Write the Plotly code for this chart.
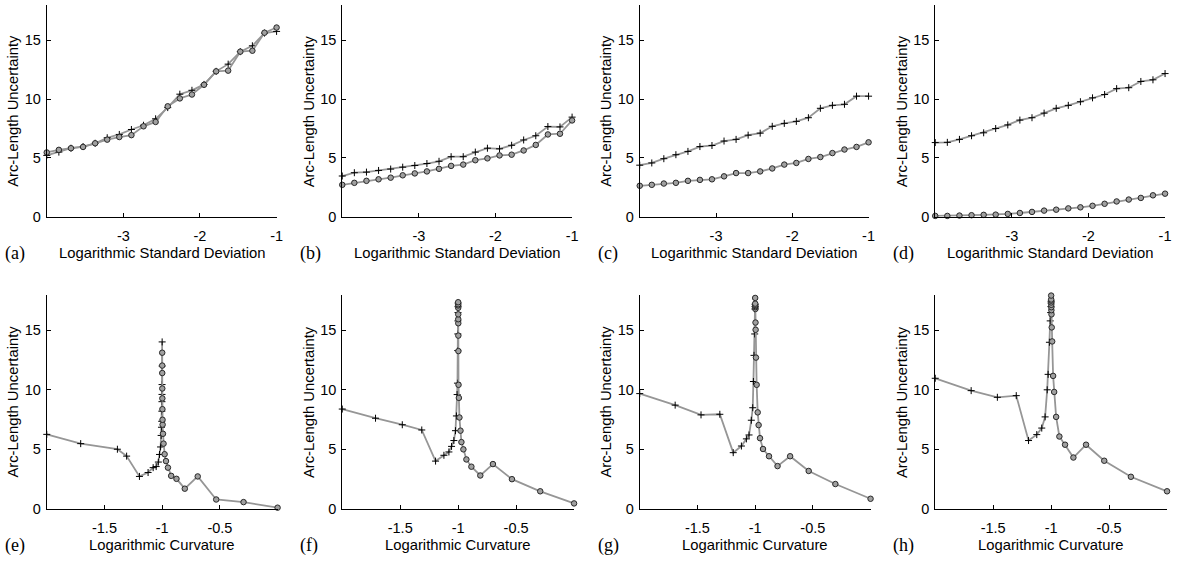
import plotly.graph_objects as go

W, H = 1184, 561

# ---------------- data ----------------
std_x = [-4.0, -3.842, -3.684, -3.526, -3.368, -3.211, -3.053, -2.895, -2.737, -2.579,
         -2.421, -2.263, -2.105, -1.947, -1.789, -1.632, -1.474, -1.316, -1.158, -1.0]

a_plus = [5.22, 5.50, 5.83, 5.97, 6.25, 6.72, 7.00, 7.42, 7.78, 8.33,
          9.28, 10.42, 10.75, 11.25, 12.36, 12.97, 14.03, 14.53, 15.61, 15.75]
a_circ = [5.47, 5.69, 5.83, 5.94, 6.25, 6.56, 6.78, 6.94, 7.69, 8.06,
          9.39, 10.06, 10.39, 11.22, 12.36, 12.42, 14.03, 14.11, 15.64, 16.08]

b_plus = [3.47, 3.75, 3.80, 3.94, 4.06, 4.22, 4.36, 4.53, 4.72, 5.11,
          5.11, 5.50, 5.83, 5.78, 6.08, 6.53, 6.89, 7.67, 7.64, 8.47]
b_circ = [2.72, 2.89, 3.06, 3.19, 3.33, 3.53, 3.69, 3.86, 4.08, 4.33,
          4.44, 4.81, 4.97, 5.22, 5.28, 5.64, 6.11, 7.00, 7.06, 8.19]

c_plus = [4.39, 4.58, 4.94, 5.28, 5.56, 5.97, 6.06, 6.44, 6.58, 6.94,
          7.11, 7.69, 7.94, 8.11, 8.42, 9.22, 9.47, 9.56, 10.25, 10.25]
c_circ = [2.64, 2.72, 2.83, 2.89, 3.06, 3.14, 3.19, 3.44, 3.72, 3.72,
          3.86, 4.11, 4.44, 4.58, 4.92, 5.08, 5.42, 5.72, 5.94, 6.33]

d_plus = [6.31, 6.33, 6.58, 6.89, 7.14, 7.50, 7.81, 8.22, 8.42, 8.81,
          9.22, 9.47, 9.78, 10.11, 10.39, 10.89, 10.97, 11.50, 11.64, 12.17]
d_circ = [0.08, 0.08, 0.11, 0.14, 0.17, 0.19, 0.25, 0.33, 0.42, 0.53,
          0.61, 0.72, 0.81, 0.94, 1.11, 1.31, 1.47, 1.61, 1.83, 1.97]

# curvature panels: '+' branch (from the left) and 'o' branch (from the right)
e_plus_x = [-2.0, -1.706, -1.388, -1.308, -1.197, -1.122, -1.078, -1.052, -1.033, -1.023,
            -1.014, -1.009, -1.006, -1.004, -1.003, -1.002, -1.0015, -1.001, -1.0005, -1.0002]
e_plus_y = [6.25, 5.47, 5.00, 4.42, 2.71, 3.04, 3.45, 3.54, 3.92, 4.56,
            5.19, 6.16, 6.85, 7.35, 8.20, 9.00, 9.61, 10.44, 12.00, 14.03]
e_circ_x = [0.0, -0.295, -0.532, -0.692, -0.804, -0.876, -0.922, -0.950, -0.967, -0.979,
            -0.988, -0.993, -0.996, -0.997, -0.998, -0.9985, -0.999, -0.9993, -0.9995, -0.9997]
e_circ_y = [0.08, 0.55, 0.77, 2.71, 1.68, 2.51, 2.76, 3.45, 4.00, 4.58,
            5.47, 6.30, 7.07, 7.48, 8.37, 9.28, 10.11, 11.41, 12.04, 13.12]

f_plus_x = [-2.0, -1.713, -1.482, -1.314, -1.195, -1.123, -1.080, -1.057, -1.037, -1.023,
            -1.015, -1.009, -1.006, -1.004, -1.003, -1.002, -1.0015, -1.001, -1.0005]
f_plus_y = [8.38, 7.61, 7.06, 6.62, 4.00, 4.49, 4.77, 5.24, 5.73, 6.56,
            7.80, 9.60, 10.56, 13.30, 14.70, 15.80, 16.50, 17.00, 17.30]
f_circ_x = [0.0, -0.292, -0.536, -0.700, -0.809, -0.886, -0.929, -0.955, -0.972, -0.980,
            -0.989, -0.994, -0.997, -0.998, -0.9985, -0.999, -0.9992, -0.9994, -0.9996, -0.9997, -0.9998, -0.9999]
f_circ_y = [0.44, 1.46, 2.48, 3.75, 2.79, 3.53, 4.14, 4.99, 5.60, 6.56,
            7.67, 9.32, 10.42, 13.26, 14.56, 15.60, 15.94, 16.35, 16.90, 17.10, 17.20, 17.37]

g_plus_x = [-2.0, -1.693, -1.469, -1.306, -1.190, -1.119, -1.076, -1.053, -1.033, -1.021,
            -1.015, -1.010, -1.004, -1.002, -1.001, -1.0005]
g_plus_y = [9.68, 8.71, 7.89, 7.94, 4.71, 5.27, 5.87, 6.20, 7.44, 8.49,
            10.70, 12.90, 14.70, 16.80, 17.00, 17.20]
g_circ_x = [0.0, -0.305, -0.536, -0.697, -0.806, -0.880, -0.932, -0.958, -0.970, -0.978,
            -0.987, -0.993, -0.996, -0.997, -0.998, -0.9985, -0.999, -0.9993, -0.9995, -0.9998]
g_circ_y = [0.83, 2.07, 3.17, 4.41, 3.58, 4.41, 5.02, 5.93, 7.03, 8.10,
            10.42, 12.71, 15.05, 15.66, 16.80, 16.95, 17.05, 17.15, 17.25, 17.73]

h_plus_x = [-2.0, -1.690, -1.464, -1.301, -1.195, -1.124, -1.081, -1.052, -1.034, -1.026,
            -1.015, -1.008, -1.004, -1.002, -1.001, -1.0005]
h_plus_y = [10.97, 9.93, 9.37, 9.51, 5.73, 6.23, 6.78, 7.72, 10.00, 11.30,
            14.00, 15.80, 16.50, 17.00, 17.30, 17.45]
h_circ_x = [0.0, -0.312, -0.542, -0.699, -0.808, -0.880, -0.929, -0.957, -0.974, -0.983,
            -0.991, -0.995, -0.997, -0.998, -0.9985, -0.999, -0.9993, -0.9995, -0.9997, -0.9999]
h_circ_y = [1.46, 2.68, 4.03, 5.38, 4.30, 5.38, 6.07, 7.72, 9.82, 11.17,
            14.07, 15.25, 16.35, 16.70, 16.95, 17.15, 17.35, 17.50, 17.60, 17.93]

panel_labels = ["(a)", "(b)", "(c)", "(d)", "(e)", "(f)", "(g)", "(h)"]
x_title_top = "Logarithmic Standard Deviation"
x_title_bottom = "Logarithmic Curvature"
y_title = "Arc-Length Uncertainty"
top_ticks = [-3, -2, -1]
bottom_ticks = [-1.5, -1, -0.5]
y_ticks = [0, 5, 10, 15]

# ---------------- layout geometry (pixels) ----------------
top_left = [47, 344, 643, 940]
top_right = [278, 575, 873, 1171]
bot_left = [47, 344, 643, 940]
bot_right = [279, 577, 875, 1173]
top_y = (5, 220)
bot_y = (299, 516)

LINE = "rgb(150,150,150)"
FONT = "Liberation Sans, Arial, sans-serif"

fig = go.Figure()

def add_series(idx, x, y, kind):
    ax = "" if idx == 1 else str(idx)
    if kind == "plus":
        marker = dict(symbol="cross-thin", size=5, color="black",
                      line=dict(color="black", width=1))
    else:
        marker = dict(symbol="circle", size=5.5, color="rgb(160,160,160)",
                      line=dict(color="rgb(40,40,40)", width=1))
    fig.add_trace(go.Scatter(x=x, y=y, mode="lines+markers",
                             line=dict(color=LINE, width=1.8),
                             marker=marker, showlegend=False, hoverinfo="skip",
                             xaxis="x" + ax, yaxis="y" + ax, cliponaxis=False))

top_data = [(a_plus, a_circ), (b_plus, b_circ), (c_plus, c_circ), (d_plus, d_circ)]
for i, (p, c) in enumerate(top_data):
    add_series(i + 1, std_x, p, "plus")
    add_series(i + 1, std_x, c, "circ")

bot_data = [(e_plus_x, e_plus_y, e_circ_x, e_circ_y),
            (f_plus_x, f_plus_y, f_circ_x, f_circ_y),
            (g_plus_x, g_plus_y, g_circ_x, g_circ_y),
            (h_plus_x, h_plus_y, h_circ_x, h_circ_y)]
for i, (px_, py_, cx_, cy_) in enumerate(bot_data):
    add_series(i + 5, px_, py_, "plus")
    add_series(i + 5, cx_, cy_, "circ")

layout = dict(width=W, height=H, margin=dict(l=0, r=0, t=0, b=0),
              paper_bgcolor="white", plot_bgcolor="white",
              font=dict(family=FONT, size=14, color="black"))

axis_common = dict(showgrid=False, zeroline=False, showline=True, linecolor="black",
                   linewidth=1, ticks="inside", ticklen=4, tickcolor="black",
                   tickfont=dict(family=FONT, size=14.5, color="black"))

annotations = []
for i in range(8):
    n = i + 1
    if i < 4:
        x0, x1 = top_left[i], top_right[i]
        y0, y1 = top_y
        xr = [-4, -1]
        tv = top_ticks
        tt = [str(t) for t in top_ticks]
        xt = x_title_top
    else:
        x0, x1 = bot_left[i - 4], bot_right[i - 4]
        y0, y1 = bot_y
        xr = [-2, 0]
        tv = bottom_ticks
        tt = ["-1.5", "-1", "-0.5"]
        xt = x_title_bottom
    sfx = "" if n == 1 else str(n)
    layout["xaxis" + sfx] = dict(axis_common, domain=[x0 / W, x1 / W], range=xr,
                                 tickvals=tv, ticktext=tt, anchor="y" + sfx,
                                 ticklabelstandoff=6)
    layout["yaxis" + sfx] = dict(axis_common, domain=[1 - y1 / H, 1 - y0 / H], range=[0, 18],
                                 tickvals=y_ticks, anchor="x" + sfx, ticklabelstandoff=2)
    # x title
    annotations.append(dict(text=xt, x=(x0 + x1) / 2 / W, y=1 - (y1 + 37) / H,
                            xref="paper", yref="paper", showarrow=False,
                            xanchor="center", yanchor="middle",
                            font=dict(family=FONT, size=14.8, color="black")))
    # y title
    annotations.append(dict(text=y_title, x=(x0 - 34) / W, y=1 - (y0 + y1) / 2 / H,
                            xref="paper", yref="paper", showarrow=False, textangle=-90,
                            xanchor="center", yanchor="middle",
                            font=dict(family=FONT, size=14.8, color="black")))
    # panel label
    annotations.append(dict(text=panel_labels[i], x=(x0 - 44) / W, y=1 - (y1 + 37) / H,
                            xref="paper", yref="paper", showarrow=False,
                            xanchor="left", yanchor="middle",
                            font=dict(family="Liberation Serif, Times New Roman, serif",
                                      size=18, color="black")))

layout["annotations"] = annotations
fig.update_layout(**layout)
fig.write_html("out.html", config={"displayModeBar": False},
               post_script="document.body.style.margin='0px';")
